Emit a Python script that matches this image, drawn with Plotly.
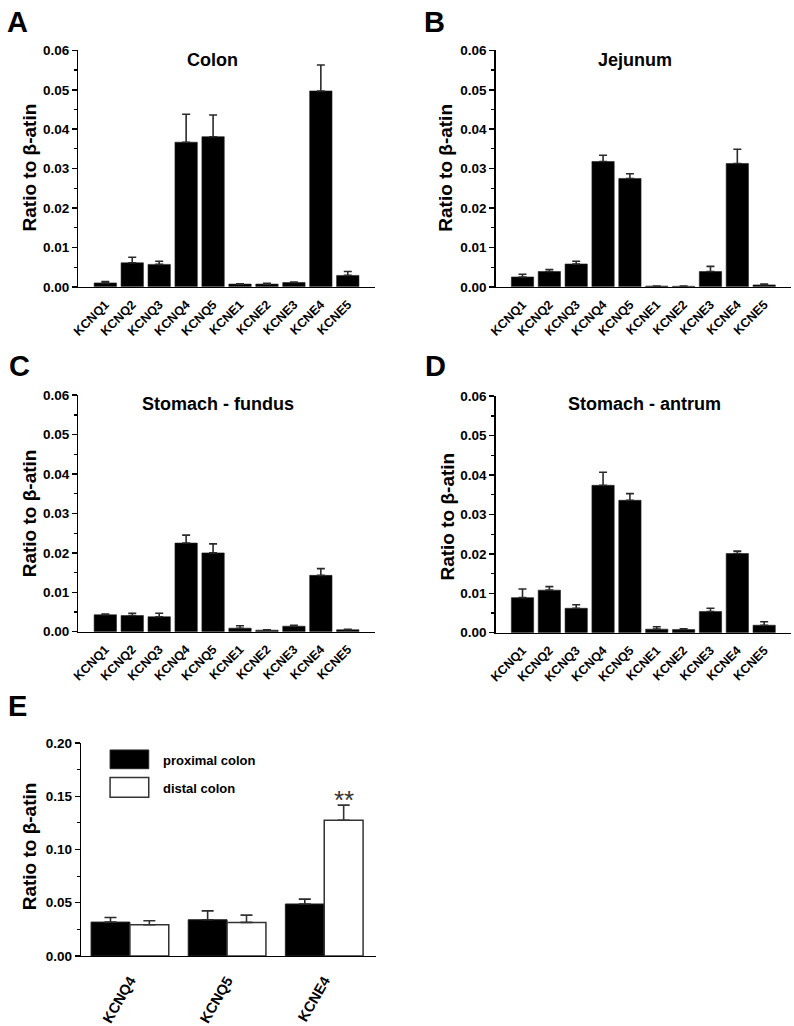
import plotly.graph_objects as go

# ---------------- data ----------------
genes = ["KCNQ1", "KCNQ2", "KCNQ3", "KCNQ4", "KCNQ5",
         "KCNE1", "KCNE2", "KCNE3", "KCNE4", "KCNE5"]

colon_mean = [0.0010, 0.0061, 0.0057, 0.0367, 0.0381, 0.0007, 0.0007, 0.0011, 0.0497, 0.0029]
colon_sem = [0.00035, 0.0014, 0.0008, 0.0071, 0.0055, 0.0001, 0.0002, 0.0001, 0.0066, 0.0010]

jejunum_mean = [0.0025, 0.0039, 0.0058, 0.0318, 0.0275, 0.0002, 0.00015, 0.0039, 0.0313, 0.0005]
jejunum_sem = [0.0007, 0.0005, 0.0007, 0.0016, 0.0012, 0.00003, 0.00003, 0.0013, 0.0036, 0.0002]

fundus_mean = [0.0043, 0.0041, 0.0038, 0.0225, 0.0200, 0.0009, 0.0004, 0.0014, 0.0143, 0.0005]
fundus_sem = [0.0002, 0.0006, 0.0009, 0.0020, 0.0023, 0.0006, 0.0001, 0.0002, 0.0017, 0.0001]

antrum_mean = [0.0089, 0.0108, 0.0062, 0.0374, 0.0336, 0.0009, 0.0008, 0.0054, 0.0201, 0.0019]
antrum_sem = [0.0022, 0.0009, 0.0009, 0.0033, 0.0017, 0.0006, 0.0002, 0.0008, 0.0006, 0.0009]

e_genes = ["KCNQ4", "KCNQ5", "KCNE4"]
proximal_mean = [0.0318, 0.0340, 0.0488]
proximal_sem = [0.0043, 0.0083, 0.0046]
distal_mean = [0.0293, 0.0315, 0.1275]
distal_sem = [0.0037, 0.0068, 0.0142]

panel_titles = ["Colon", "Jejunum", "Stomach - fundus", "Stomach - antrum"]
panel_letters = ["A", "B", "C", "D", "E"]
y_title = "Ratio to β-atin"

# ---------------- layout helpers ----------------
W, H = 794, 1026
FONT = "Liberation Sans, Arial, sans-serif"


def px_x(x):
    return x / W


def px_y(y):
    return 1 - y / H


fig = go.Figure()

panels = [
    # (mean, sem, x0, x1, ytop, ybottom)
    (colon_mean, colon_sem, 72, 371, 44, 284),
    (jejunum_mean, jejunum_sem, 493, 791, 44, 284),
    (fundus_mean, fundus_sem, 72, 371, 394, 634),
    (antrum_mean, antrum_sem, 493, 791, 395, 635),
]

err_color = "#2a2a2a"

for i, (m, s, x0, x1, yt, yb) in enumerate(panels):
    ax = "" if i == 0 else str(i + 1)
    fig.add_trace(go.Bar(
        x=genes, y=m,
        width=0.83,
        marker=dict(color="black", line=dict(color="#222", width=0.6)),
        error_y=dict(type="data", array=s, arrayminus=[0] * len(s), symmetric=False,
                     color=err_color, thickness=1.6, width=4),
        xaxis="x" + ax, yaxis="y" + ax,
    ))
    fig.layout["xaxis" + ax] = dict(
        domain=[px_x(x0), px_x(x1)], anchor="y" + ax,
        range=[-1, 10], showline=True, linecolor="black", linewidth=1.5,
        ticks="", showgrid=False, zeroline=False, tickangle=-45,
        ticklabelstandoff=4,
        tickfont=dict(family=FONT, size=12.5, color="black", weight="bold"),
        fixedrange=True,
    )
    fig.layout["yaxis" + ax] = dict(
        domain=[px_y(yb), px_y(yt)], anchor="x" + ax,
        range=[0, 0.06], dtick=0.01, tickformat=".2f",
        showline=True, linecolor="black", linewidth=1.5,
        ticks="outside", ticklen=5, tickwidth=1.5, tickcolor="black",
        minor=dict(ticks="outside", ticklen=3, tickwidth=1.2, dtick=0.005, tickcolor="black"),
        showgrid=False, zeroline=False,
        tickfont=dict(family=FONT, size=13.5, color="black", weight="bold"),
        fixedrange=True,
    )

# Panel E
fig.add_trace(go.Bar(
    x=e_genes, y=proximal_mean, width=0.4, offset=-0.4,
    name="proximal colon",
    marker=dict(color="black", line=dict(color="#222", width=1)),
    error_y=dict(type="data", array=proximal_sem, arrayminus=[0] * 3, symmetric=False,
                 color=err_color, thickness=1.6, width=6),
    xaxis="x5", yaxis="y5",
))
fig.add_trace(go.Bar(
    x=e_genes, y=distal_mean, width=0.4, offset=0,
    name="distal colon",
    marker=dict(color="white", line=dict(color="#333", width=1.5)),
    error_y=dict(type="data", array=distal_sem, arrayminus=[0] * 3, symmetric=False,
                 color="#333", thickness=1.6, width=6),
    xaxis="x5", yaxis="y5",
))
fig.layout["xaxis5"] = dict(
    domain=[px_x(75), px_x(372)], anchor="y5",
    range=[-0.5, 2.53], showline=True, linecolor="black", linewidth=1.5,
    ticks="", showgrid=False, zeroline=False, tickangle=-60,
    ticklabelstandoff=9,
    tickfont=dict(family=FONT, size=14.5, color="black", weight="bold"),
    fixedrange=True,
)
fig.layout["yaxis5"] = dict(
    domain=[px_y(963), px_y(747)], anchor="x5",
    range=[0, 0.2], dtick=0.05, tickformat=".2f",
    showline=True, linecolor="black", linewidth=1.5,
    ticks="outside", ticklen=5, tickwidth=1.5, tickcolor="black",
    minor=dict(ticks="outside", ticklen=3, tickwidth=1.2, dtick=0.025, tickcolor="black"),
    showgrid=False, zeroline=False,
    tickfont=dict(family=FONT, size=13.5, color="black", weight="bold"),
    fixedrange=True,
)

annotations = []
# panel titles
title_pos = [(207, 54), (634, 54), (213, 403), (643, 403)]
for t, (cx, cy) in zip(panel_titles, title_pos):
    annotations.append(dict(text=t, x=px_x(cx), y=px_y(cy), xref="paper", yref="paper",
                            xanchor="center", yanchor="middle", showarrow=False,
                            font=dict(family=FONT, size=18, color="black", weight="bold")))
# panel letters
letter_pos = [(11, 15), (431, 15), (13, 364), (432, 364), (11, 709)]
for t, (cx, cy) in zip(panel_letters, letter_pos):
    annotations.append(dict(text=t, x=px_x(cx), y=px_y(cy), xref="paper", yref="paper",
                            xanchor="center", yanchor="middle", showarrow=False,
                            font=dict(family=FONT, size=29, color="black", weight="bold")))
# y titles
ytitle_pos = [(23, 163), (443, 163), (23, 514), (444, 517), (23, 852)]
for (cx, cy) in ytitle_pos:
    annotations.append(dict(text=y_title, x=px_x(cx), y=px_y(cy), xref="paper", yref="paper",
                            xanchor="center", yanchor="middle", showarrow=False, textangle=-90,
                            font=dict(family=FONT, size=19, color="black", weight="bold")))
# legend text
annotations.append(dict(text="proximal colon", x=px_x(155), y=px_y(765), xref="paper", yref="paper",
                        xanchor="left", yanchor="middle", showarrow=False,
                        font=dict(family=FONT, size=13, color="black", weight="bold")))
annotations.append(dict(text="distal colon", x=px_x(155), y=px_y(793), xref="paper", yref="paper",
                        xanchor="left", yanchor="middle", showarrow=False,
                        font=dict(family=FONT, size=13, color="black", weight="bold")))
# significance
annotations.append(dict(text="**", x=2.2, xref="x5", y=px_y(805), yref="paper",
                        xanchor="center", yanchor="middle", showarrow=False,
                        font=dict(family=FONT, size=26, color="#333")))

shapes = [
    dict(type="rect", xref="paper", yref="paper", x0=px_x(104), x1=px_x(143),
         y0=px_y(773), y1=px_y(754), fillcolor="black", line=dict(color="#222", width=1)),
    dict(type="rect", xref="paper", yref="paper", x0=px_x(104), x1=px_x(143),
         y0=px_y(802), y1=px_y(782), fillcolor="white", line=dict(color="#333", width=1.5)),
]

fig.update_layout(
    width=W, height=H, margin=dict(l=0, r=0, t=0, b=0),
    paper_bgcolor="white", plot_bgcolor="white",
    barmode="overlay", showlegend=False,
    annotations=annotations, shapes=shapes,
    font=dict(family=FONT, color="black"),
)

fig.write_html(
    "out.html",
    config={"displayModeBar": False, "staticPlot": True},
    post_script="document.body.style.margin='0';document.body.style.padding='0';document.body.style.overflow='hidden';",
)
